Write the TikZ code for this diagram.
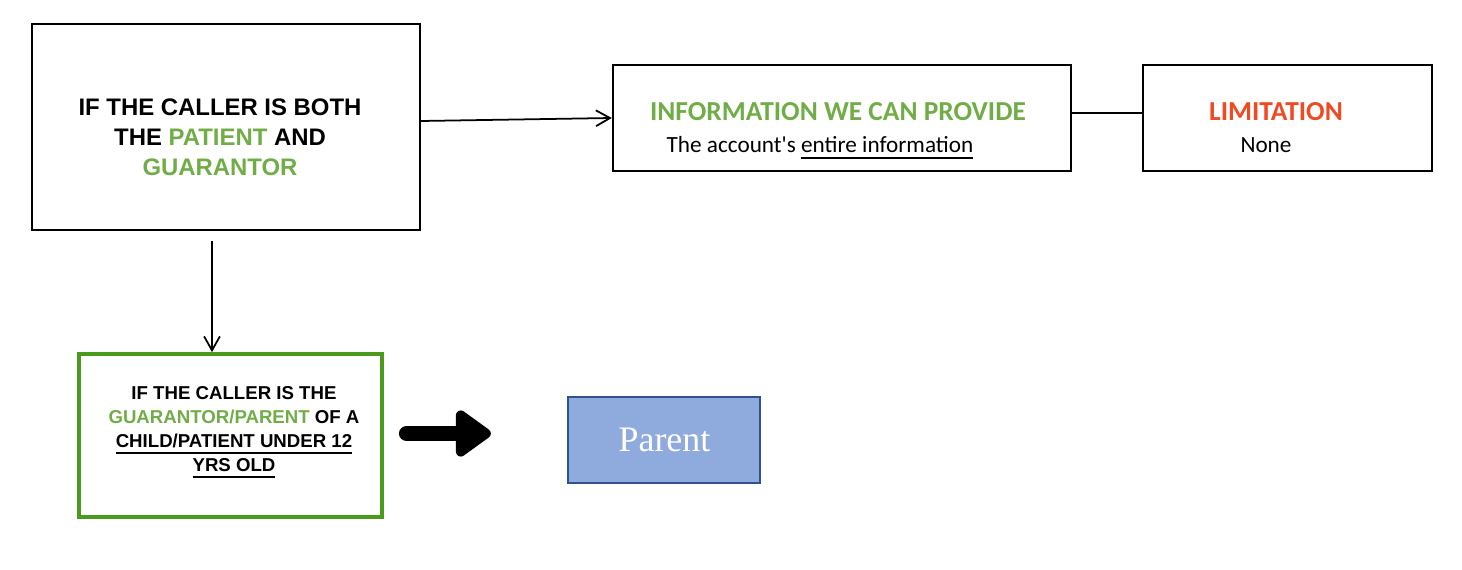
\documentclass[tikz,border=0pt]{standalone}
\usepackage{fontspec}
\setmainfont{Liberation Sans}
\newfontfamily\calibface{Carlito}
\newfontfamily\serifface{Liberation Serif}
\usetikzlibrary{arrows.meta,positioning}

\definecolor{okgreen}{HTML}{70AD47}
\definecolor{darkgreen}{HTML}{4A9A1C}
\definecolor{limitred}{HTML}{EF4A23}
\definecolor{parentfill}{HTML}{8FAADC}
\definecolor{parentline}{HTML}{2F528F}

\tikzset{
	box/.style={draw, line width=0.6pt, inner sep=0pt},
	headtext/.style={align=center, font=\bfseries\fontsize{6.8pt}{8.5pt}\selectfont},
	smalltext/.style={align=center, font=\bfseries\fontsize{5.3pt}{6.83pt}\selectfont},
	titletext/.style={anchor=base, font=\calibface\bfseries\fontsize{7.8pt}{9pt}\selectfont},
	plaintext/.style={anchor=base, font=\calibface\fontsize{6.6pt}{8pt}\selectfont},
	thinarrow/.style={line width=0.5pt, -{Straight Barb[length=4pt,width=4.5pt]}},
	fatarrow/.style={line width=4.5pt, line cap=round, -{Triangle[length=11pt,width=15pt,round]}}
}

\begin{document}
\begin{tikzpicture}[x=0.01cm, y=-0.01cm]

\path [use as bounding box] (0,0) rectangle (1462,570);

% BOXES
\node [box, minimum width=3.88cm, minimum height=2.06cm] (both) at (226,127) {};
\node [box, minimum width=4.58cm, minimum height=1.06cm] (info) at (842,118) {};
\node [box, minimum width=2.89cm, minimum height=1.06cm] (limit) at (1287.5,118) {};
\node [box, draw=darkgreen, line width=1pt, minimum width=3.03cm, minimum height=1.63cm] (kid) at (230.5,435.5) {};
\node [box, draw=parentline, fill=parentfill, minimum width=1.92cm, minimum height=0.86cm] (parent) at (664,440) {};

% TEXTS
\node [headtext] (bothtxt) at (220,137) {IF THE CALLER IS BOTH\\THE \textcolor{okgreen}{PATIENT} AND\\\textcolor{okgreen}{GUARANTOR}};
\node [titletext, text=okgreen] (infotitle) at (838,121) {INFORMATION WE CAN PROVIDE};
\node [plaintext] (infotxt) at (820,153) {The account's \underline{entire information}};
\node [titletext, text=limitred] (limittitle) at (1276,121) {LIMITATION};
\node [plaintext] (limittxt) at (1266,153) {None};
\node [smalltext] (kidtxt) at (234,433) {IF THE CALLER IS THE\\\textcolor{okgreen}{GUARANTOR/PARENT} OF A\\\underline{CHILD/PATIENT UNDER 12}\\\underline{YRS OLD}};
\node [font=\serifface\fontsize{10.2pt}{12pt}\selectfont, text=white, anchor=base] (parenttxt) at (664.5,452) {Parent};

% CONNECTORS
\draw [thinarrow] (both.east) ++(0,-6) -- (info.west);
\draw [line width=0.6pt] (info.east) ++(0,-5) coordinate (l0) -- (l0 -| limit.west);
\draw [thinarrow] (both.south) ++(-14,10) coordinate (d0) -- (d0 |- kid.north);
\draw [fatarrow, shorten >=0.76cm] (kid.east) ++(23,-2) coordinate (f0) -- (f0 -| parent.west);

\end{tikzpicture}
\end{document}
